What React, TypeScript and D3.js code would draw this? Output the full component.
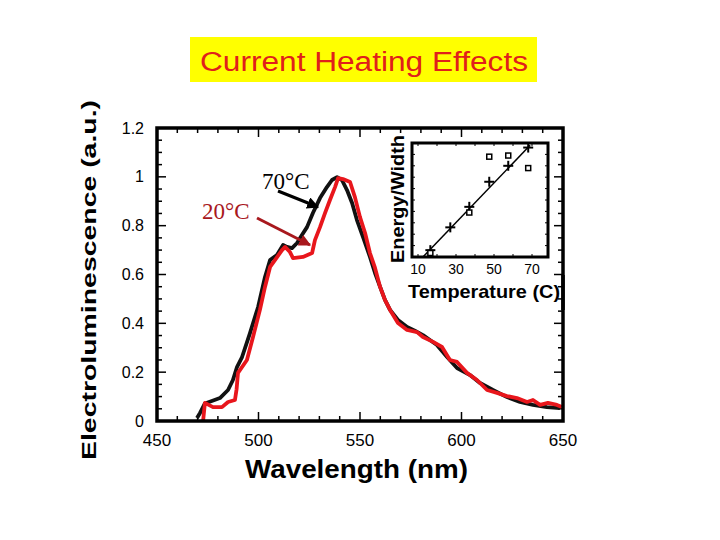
import React from "react";
import * as d3 from "d3";

// ---- Main spectrum data (wavelength nm, normalized EL) ----
const black70Nm = [469.7, 471.2, 473.6, 477.0, 481.0, 485.0, 487.4, 489.4, 491.9, 495.8, 499.8, 503.2, 505.7, 509.1, 512.1, 514.0, 516.5, 519.0, 521.4, 523.9, 526.8, 530.3, 533.7, 536.2, 538.7, 541.1, 543.6, 546.1, 548.5, 551.5, 554.9, 557.4, 559.9, 562.3, 564.8, 568.7, 573.2, 577.0, 581.0, 587.9, 592.9, 597.8, 604.2, 609.1, 615.5, 622.4, 628.8, 635.2, 642.1, 648.5];
const black70Val = [0.012, 0.033, 0.072, 0.082, 0.094, 0.127, 0.168, 0.221, 0.262, 0.36, 0.467, 0.59, 0.659, 0.68, 0.721, 0.713, 0.708, 0.729, 0.762, 0.794, 0.852, 0.913, 0.958, 0.987, 0.999, 0.987, 0.946, 0.893, 0.823, 0.753, 0.672, 0.606, 0.549, 0.496, 0.455, 0.414, 0.385, 0.37, 0.352, 0.311, 0.262, 0.217, 0.188, 0.156, 0.127, 0.098, 0.078, 0.066, 0.057, 0.053];

const red20Nm = [472.7, 473.6, 477.6, 482.0, 485.0, 488.4, 489.2, 489.9, 494.3, 497.3, 500.7, 503.2, 505.7, 508.1, 511.6, 513.1, 515.5, 517.0, 521.9, 526.4, 527.8, 530.3, 532.8, 535.2, 537.7, 539.2, 541.6, 545.1, 547.5, 550.0, 552.5, 554.9, 557.4, 559.9, 562.3, 564.8, 568.7, 573.2, 578.1, 581.0, 586.0, 590.4, 594.3, 597.8, 602.7, 607.6, 612.6, 617.5, 622.4, 627.3, 632.3, 635.2, 638.7, 642.6, 647.0, 649.5];
const red20Val = [0, 0.074, 0.057, 0.057, 0.078, 0.086, 0.13, 0.197, 0.25, 0.344, 0.455, 0.549, 0.631, 0.659, 0.7, 0.713, 0.692, 0.667, 0.672, 0.688, 0.741, 0.794, 0.852, 0.905, 0.958, 0.995, 0.991, 0.979, 0.917, 0.835, 0.77, 0.688, 0.627, 0.549, 0.496, 0.455, 0.401, 0.373, 0.364, 0.344, 0.324, 0.303, 0.25, 0.242, 0.197, 0.168, 0.127, 0.115, 0.102, 0.094, 0.078, 0.086, 0.066, 0.074, 0.066, 0.057];

const xTickLabels = [450, 500, 550, 600, 650];
const yTickLabels = [0, 0.2, 0.4, 0.6, 0.8, 1, 1.2];

// ---- Inset data (temperature C, energy/width) ----
const insetCrossT = [16.5, 27, 37, 47.5, 57.5, 68];
const insetCrossV = [0.06, 0.26, 0.44, 0.66, 0.8, 0.96];
const insetSquareT = [16.5, 37, 47.5, 57.5, 68];
const insetSquareV = [0.035, 0.39, 0.88, 0.89, 0.78];
const insetFitT = [12.6, 69];
const insetFitV = [0, 0.98];
const insetTickLabels = [10, 30, 50, 70];

const RED = "#e8161c";
const DARKRED = "#a8181d";

export default function App() {
  const x = d3.scaleLinear().domain([450, 650]).range([157, 563]);
  const y = d3.scaleLinear().domain([0, 1.2]).range([421, 128]);

  const ix = d3.scaleLinear().domain([10, 70]).range([418, 532]);
  const iy = d3.scaleLinear().domain([0, 1]).range([257, 143]);
  const iL = 412, iR = 548, iT = 143, iB = 257;

  const line = d3
    .line<[number, number]>()
    .x((d) => x(d[0]))
    .y((d) => y(d[1]));

  const blackPts = black70Nm.map((n, i) => [n, black70Val[i]] as [number, number]);
  const redPts = red20Nm.map((n, i) => [n, red20Val[i]] as [number, number]);

  const xMinor = d3.range(450, 651, 10);
  const yMinor = d3.range(0, 1.2001, 0.05);

  const xL = 157, xR = 563, yT = 128, yB = 421;

  const inXTicks = d3.range(10, 71, 10);
  const inYTicks = d3.range(0.1, 1, 0.1);

  return (
    <svg
      width={720}
      height={540}
      style={{ position: "absolute", left: 0, top: 0, background: "#fff" }}
      fontFamily="Liberation Sans, Arial, sans-serif"
    >
      <defs>
        <marker id="arrB" viewBox="0 0 10 10" refX="9" refY="5" markerWidth="4" markerHeight="4" orient="auto">
          <path d="M0,0 L10,5 L0,10 z" fill="#000" />
        </marker>
        <marker id="arrR" viewBox="0 0 10 10" refX="9" refY="5" markerWidth="4" markerHeight="4" orient="auto">
          <path d="M0,0 L10,5 L0,10 z" fill={DARKRED} />
        </marker>
      </defs>

      {/* Title */}
      <rect x={190} y={37} width={347} height={45} fill="#ffff00" />
      <text
        x={364}
        y={71}
        textAnchor="middle"
        fontSize={27}
        fill="#e0201b"
        textLength={328}
        lengthAdjust="spacingAndGlyphs"
      >
        Current Heating Effects
      </text>

      {/* Y axis label */}
      <text
        transform="translate(96,280) rotate(-90)"
        textAnchor="middle"
        fontSize={21}
        fontWeight="bold"
        textLength={360}
        lengthAdjust="spacingAndGlyphs"
      >
        Electroluminescence (a.u.)
      </text>

      {/* X axis label */}
      <text
        x={356.5}
        y={478}
        textAnchor="middle"
        fontSize={25}
        fontWeight="bold"
        textLength={223}
        lengthAdjust="spacingAndGlyphs"
      >
        Wavelength (nm)
      </text>

      {/* minor / major ticks of main plot */}
      {xMinor.map((v, i) => {
        const major = Math.round(v) % 50 === 0;
        const L = major ? 9 : 5;
        return (
          <g key={"xt" + i} stroke="#000" strokeWidth={1.5}>
            <line x1={x(v)} x2={x(v)} y1={yB} y2={yB - L} />
            <line x1={x(v)} x2={x(v)} y1={yT} y2={yT + L} />
          </g>
        );
      })}
      {yMinor.map((v, i) => {
        const major = i % 4 === 0;
        const L = major ? 9 : 5;
        return (
          <g key={"yt" + i} stroke="#000" strokeWidth={1.5}>
            <line x1={xL} x2={xL + L} y1={y(v)} y2={y(v)} />
            <line x1={xR} x2={xR - L} y1={y(v)} y2={y(v)} />
          </g>
        );
      })}

      {/* curves */}
      <path d={line(blackPts) || ""} fill="none" stroke="#111" strokeWidth={3.8} strokeLinejoin="round" />
      <path d={line(redPts) || ""} fill="none" stroke={RED} strokeWidth={3.8} strokeLinejoin="round" />

      {/* main frame */}
      <rect x={xL} y={yT} width={xR - xL} height={yB - yT} fill="none" stroke="#000" strokeWidth={3.5} />

      {/* tick labels */}
      {xTickLabels.map((v) => (
        <text key={"xl" + v} x={x(v)} y={446} textAnchor="middle" fontSize={17}>
          {v}
        </text>
      ))}
      {yTickLabels.map((v) => (
        <text key={"yl" + v} x={144} y={y(v) + 5.5} textAnchor="end" fontSize={16}>
          {v}
        </text>
      ))}

      {/* annotations */}
      <text x={262} y={189} fontFamily="Liberation Serif, Times New Roman, serif" fontSize={23} fill="#000">
        70°C
      </text>
      <line x1={278} y1={191} x2={318} y2={207} stroke="#000" strokeWidth={3} markerEnd="url(#arrB)" />
      <text x={202} y={219} fontFamily="Liberation Serif, Times New Roman, serif" fontSize={23} fill={DARKRED}>
        20°C
      </text>
      <line x1={257} y1={218} x2={310} y2={245} stroke={DARKRED} strokeWidth={3} markerEnd="url(#arrR)" />

      {/* Inset */}
      <text
        transform="translate(404,199) rotate(-90)"
        textAnchor="middle"
        fontSize={19}
        fontWeight="bold"
        textLength={128}
        lengthAdjust="spacingAndGlyphs"
      >
        Energy/Width
      </text>
      <rect x={iL} y={iT} width={iR - iL} height={iB - iT} fill="#fff" stroke="none" />
      {inXTicks.map((v) => (
        <g key={"ixt" + v} stroke="#000" strokeWidth={1}>
          <line x1={ix(v)} x2={ix(v)} y1={iB} y2={iB - 3} />
          <line x1={ix(v)} x2={ix(v)} y1={iT} y2={iT + 3} />
        </g>
      ))}
      {inYTicks.map((v, i) => (
        <g key={"iyt" + i} stroke="#000" strokeWidth={1}>
          <line x1={iL} x2={iL + 3} y1={iy(v)} y2={iy(v)} />
          <line x1={iR} x2={iR - 3} y1={iy(v)} y2={iy(v)} />
        </g>
      ))}
      <line
        x1={ix(insetFitT[0])}
        y1={iy(insetFitV[0])}
        x2={ix(insetFitT[1])}
        y2={iy(insetFitV[1])}
        stroke="#000"
        strokeWidth={1.5}
      />
      {insetCrossT.map((t, i) => (
        <g key={"cr" + i} stroke="#000" strokeWidth={2}>
          <line x1={ix(t) - 5} x2={ix(t) + 5} y1={iy(insetCrossV[i])} y2={iy(insetCrossV[i])} />
          <line x1={ix(t)} x2={ix(t)} y1={iy(insetCrossV[i]) - 5} y2={iy(insetCrossV[i]) + 5} />
        </g>
      ))}
      {insetSquareT.map((t, i) => (
        <rect
          key={"sq" + i}
          x={ix(t) - 2.5}
          y={iy(insetSquareV[i]) - 2.5}
          width={5}
          height={5}
          fill="#fff"
          stroke="#000"
          strokeWidth={1.5}
        />
      ))}
      <rect x={iL} y={iT} width={iR - iL} height={iB - iT} fill="none" stroke="#000" strokeWidth={3} />
      {insetTickLabels.map((v) => (
        <text key={"il" + v} x={ix(v)} y={274} textAnchor="middle" fontSize={14}>
          {v}
        </text>
      ))}
      <text
        x={484}
        y={298}
        textAnchor="middle"
        fontSize={19}
        fontWeight="bold"
        textLength={152}
        lengthAdjust="spacingAndGlyphs"
      >
        Temperature (C)
      </text>
      {/* right axis drawn over the label end, as in original */}
      <line x1={xR} x2={xR} y1={275} y2={310} stroke="#000" strokeWidth={3.5} />
    </svg>
  );
}
